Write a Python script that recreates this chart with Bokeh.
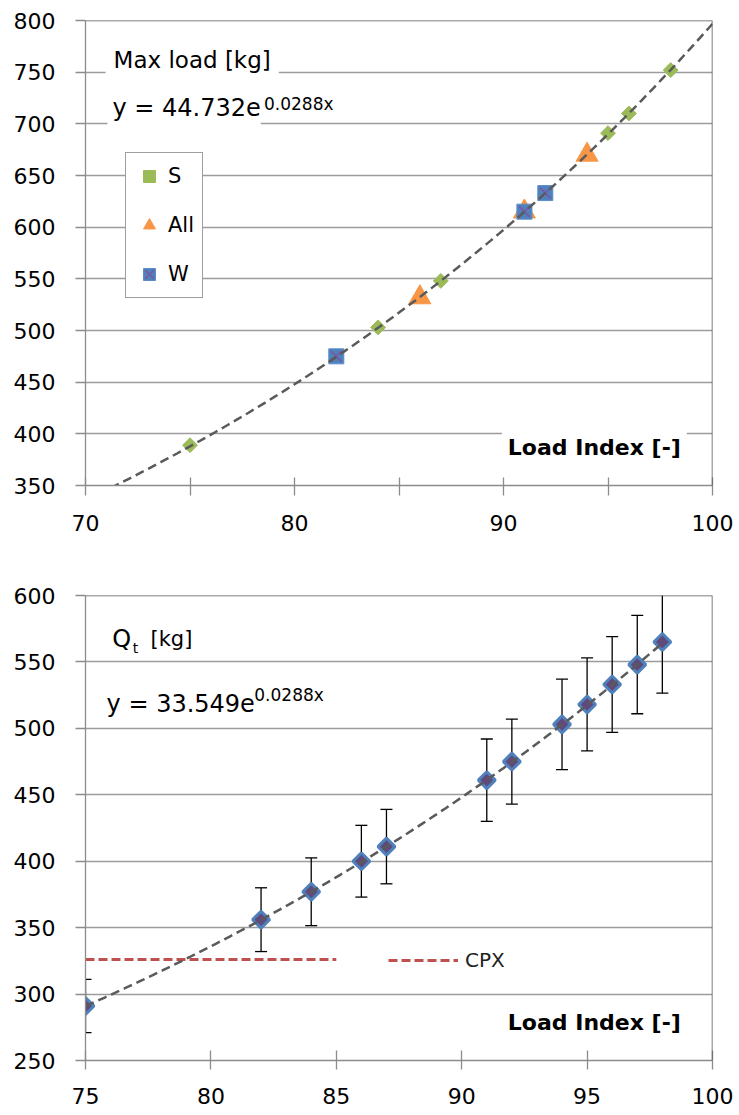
import math
import numpy as np
from bokeh.plotting import figure
from bokeh.layouts import column
from bokeh.models import FixedTicker, Label, Legend, LegendItem, Span
from bokeh.embed import file_html
from bokeh.resources import INLINE

FONT = "DejaVu Sans"

# ---------------- top chart data: Max load [kg] vs Load Index ----------------
s_load = [75, 84, 87, 95, 96, 98]
s_max_load = [389, 503, 548, 691, 710, 752]
all_load = [86, 91, 94]
all_max_load = [532, 615, 670]
w_load = [82, 91, 92]
w_max_load = [475, 615, 633]
max_fit_a = 44.732
fit_b = 0.0288
top_x_ticks = [70, 80, 90, 100]
top_x_minor = [75, 85, 95]
top_y_ticks = [350, 400, 450, 500, 550, 600, 650, 700, 750, 800]

# ---------------- bottom chart data: Qt [kg] vs Load Index ----------------
qt_load = [75, 82, 84, 86, 87, 91, 92, 94, 95, 96, 97, 98]
qt_value = [291, 356, 377, 400, 411, 461, 475, 503, 518, 533, 548, 565]
qt_error = [20, 24, 25.5, 27, 28, 31, 32, 34, 35, 36, 37, 38.5]
qt_fit_a = 33.549
cpx_load = [75, 85]
cpx_value = 326
bottom_x_ticks = [75, 80, 85, 90, 95, 100]
bottom_y_ticks = [250, 300, 350, 400, 450, 500, 550, 600]

GRID = "#9C9C9C"
AXIS = "#8C8C8C"
BORDER = "#555555"
TREND = "#5A5A5A"


def style(p, xt, xminor, yt, xmax, ymax, t_in, t_out, x_standoff):
    p.outline_line_color = None
    p.xgrid.visible = False
    p.ygrid.ticker = FixedTicker(ticks=yt)
    p.ygrid.grid_line_color = GRID
    p.ygrid.grid_line_width = 1.3
    p.xaxis.ticker = FixedTicker(ticks=xt, minor_ticks=xminor)
    p.yaxis.ticker = FixedTicker(ticks=yt)
    for ax in (p.xaxis[0], p.yaxis[0]):
        ax.axis_line_color = AXIS
        ax.axis_line_width = 1.3
        ax.major_tick_line_color = AXIS
        ax.minor_tick_line_color = AXIS
        ax.major_tick_line_width = 1.3
        ax.minor_tick_line_width = 1.3
        ax.major_label_text_font = FONT
        ax.major_label_text_font_size = "22px"
        ax.major_label_text_color = "black"
    xa = p.xaxis[0]
    xa.major_tick_in = t_in
    xa.major_tick_out = t_out
    xa.minor_tick_in = t_in
    xa.minor_tick_out = t_out
    xa.major_label_standoff = x_standoff
    ya = p.yaxis[0]
    ya.major_tick_in = 0
    ya.major_tick_out = 10
    ya.minor_tick_in = 0
    ya.minor_tick_out = 0
    ya.major_label_standoff = 20
    p.add_layout(Span(location=ymax, dimension="width", line_color=BORDER, line_width=1.5))
    p.add_layout(Span(location=xmax, dimension="height", line_color=BORDER, line_width=1.5))


def text_label(p, x, y, text, size, bold=False, pad=None):
    lab = Label(x=x, y=y, text=text, text_font=FONT, text_font_size=size,
                text_font_style="bold" if bold else "normal", text_color="black",
                text_align="left", text_baseline="middle")
    if pad is not None:
        lab.background_fill_color = "white"
        lab.padding = pad
    p.add_layout(lab)
    return lab


# ======================= top figure =======================
p1 = figure(width=739, height=557, x_range=(70, 100), y_range=(350, 800),
            output_backend="svg", toolbar_location=None,
            min_border_left=85, min_border_right=26, min_border_top=20, min_border_bottom=72)
style(p1, top_x_ticks, top_x_minor, top_y_ticks, 100, 800, 8, 10, 19)

r_all = p1.scatter(all_load, all_max_load, marker="triangle", size=22,
                   fill_color="#F79646", line_color="#F79646")
r_w = p1.scatter(w_load, w_max_load, marker="square", size=15,
                 fill_color="#4F81BD", line_color="#5B8CC8", line_width=1)
r_wx = p1.scatter(w_load, w_max_load, marker="x", size=15,
                  line_color="#7E55A0", line_width=1.5)
r_s = p1.scatter(s_load, s_max_load, marker="square", angle=math.pi / 4, size=10.5,
                 fill_color="#9BBB59", line_color="#9BBB59")

top_fit_x = np.linspace(70, 100, 151)
top_fit_y = max_fit_a * np.exp(fit_b * top_fit_x)
p1.line(top_fit_x, top_fit_y, line_color=TREND, line_width=2.5, line_dash="9 5")

text_label(p1, 70.96, 761.3, "Max load [kg]", "23px", pad=8)
text_label(p1, 78.30, 720.5, "0.0288x", "17px", pad=(5, 8, 5, 2))
text_label(p1, 71.05, 715.8, "y = 44.732e", "24px", pad=(5, 0, 5, 5))
text_label(p1, 89.92, 386.8, "Load Index [-]", "22px", bold=True, pad=6)

leg1 = Legend(items=[LegendItem(label="S", renderers=[r_s]),
                     LegendItem(label="All", renderers=[r_all]),
                     LegendItem(label="W", renderers=[r_w, r_wx])],
              location=(40, 187), orientation="vertical",
              glyph_width=30, glyph_height=30, label_height=30,
              label_standoff=4, padding=8, spacing=19, margin=0,
              label_text_font=FONT, label_text_font_size="21px", label_text_color="black",
              border_line_color="#404040", border_line_width=1,
              background_fill_color="white", background_fill_alpha=1.0)
p1.add_layout(leg1)

# ======================= bottom figure =======================
p2 = figure(width=739, height=558, x_range=(75, 100), y_range=(250, 600),
            output_backend="svg", toolbar_location=None,
            min_border_left=85, min_border_right=27, min_border_top=38, min_border_bottom=55)
style(p2, bottom_x_ticks, [], bottom_y_ticks, 100, 600, 10, 9, 18)

r_cpx = p2.line(cpx_load, [cpx_value] * len(cpx_load), line_color="#C0504D",
                line_width=3, line_dash="9 4")

qt_upper = [v + e for v, e in zip(qt_value, qt_error)]
qt_lower = [v - e for v, e in zip(qt_value, qt_error)]
p2.segment(x0=qt_load, y0=qt_lower, x1=qt_load, y1=qt_upper, line_color="black", line_width=1.3)
p2.scatter(qt_load, qt_upper, marker="dash", size=12, line_color="black", line_width=1.3)
p2.scatter(qt_load, qt_lower, marker="dash", size=12, line_color="black", line_width=1.3)

p2.scatter(qt_load, qt_value, marker="square", angle=math.pi / 4, size=12,
           fill_color="#604A7B", line_color="#4F81BD", line_width=3)

bot_fit_x = np.linspace(qt_load[0], qt_load[-1], 121)
bot_fit_y = qt_fit_a * np.exp(fit_b * bot_fit_x)
p2.line(bot_fit_x, bot_fit_y, line_color=TREND, line_width=2.5, line_dash="9 5")

text_label(p2, 76.07, 567.3, "Q", "24px")
text_label(p2, 76.88, 560.5, "t", "14px")
text_label(p2, 77.59, 567.3, "[kg]", "21px")
text_label(p2, 75.84, 518.7, "y = 33.549e", "24px")
text_label(p2, 81.73, 525.1, "0.0288x", "17px")
text_label(p2, 91.84, 278.7, "Load Index [-]", "22px", bold=True)

leg2 = Legend(items=[LegendItem(label="CPX", renderers=[r_cpx])],
              location=(303, 88), orientation="vertical",
              glyph_width=70, glyph_height=24, label_height=24,
              label_standoff=7, padding=0, spacing=0, margin=0,
              label_text_font=FONT, label_text_font_size="20px", label_text_color="#222222",
              border_line_color=None, background_fill_alpha=0.0)
p2.add_layout(leg2)

layout = column(p1, p2, spacing=0)
open("out.html", "w").write(file_html(layout, INLINE))
